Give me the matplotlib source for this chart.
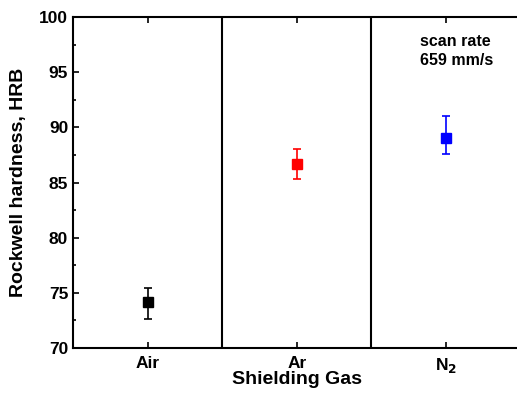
import matplotlib

matplotlib.use("Agg")
import matplotlib.pyplot as plt  # noqa: E402
from matplotlib.ticker import MultipleLocator  # noqa: E402

plt.rcParams["font.family"] = ["Liberation Sans", "DejaVu Sans"]
plt.rcParams["font.weight"] = "bold"

gases = ["Air", "Ar", "N$_2$"]
hardness = [74.2, 86.7, 89.05]
err_low = [1.6, 1.4, 1.5]
err_high = [1.2, 1.3, 2.0]
colors = ["black", "red", "blue"]

fig = plt.figure(figsize=(5.17, 3.97), dpi=100)
ax = fig.add_axes([0.1412, 0.1234, 0.8656, 0.8338])

xs = list(range(1, len(gases) + 1))
for x, y, lo, hi, c in zip(xs, hardness, err_low, err_high, colors):
    ax.errorbar([x], [y], yerr=[[lo], [hi]], fmt="s", color=c, ms=6.5,
                capsize=3, elinewidth=1.2, capthick=1.2)

# group dividers
for xd in [1.5, 2.5]:
    ax.axvline(xd, color="black", lw=1.5)

ax.set_xlim(0.5, 3.5)
ax.set_ylim(70, 100)
ax.set_xticks(xs)
ax.set_xticklabels(gases)
ax.yaxis.set_major_locator(MultipleLocator(5))
ax.yaxis.set_minor_locator(MultipleLocator(2.5))
ax.tick_params(axis="both", which="both", direction="in", top=True, right=False,
               labelsize=12.5, width=1.2)
ax.tick_params(which="major", length=4)
ax.tick_params(which="minor", length=2.5)
ax.tick_params(axis="x", pad=6)
for lbl in ax.get_xticklabels() + ax.get_yticklabels():
    lbl.set_fontweight("bold")
for s in ax.spines.values():
    s.set_linewidth(1.5)

ax.set_xlabel("Shielding Gas", fontsize=14, fontweight="bold", labelpad=-3)
ax.set_ylabel("Rockwell hardness, HRB", fontsize=14, fontweight="bold", labelpad=9)
ax.text(0.775, 0.897, "scan rate\n659 mm/s", transform=ax.transAxes, fontsize=11.5,
        fontweight="bold", ha="left", va="center", linespacing=1.3)

fig.savefig("out.png", dpi=100)
